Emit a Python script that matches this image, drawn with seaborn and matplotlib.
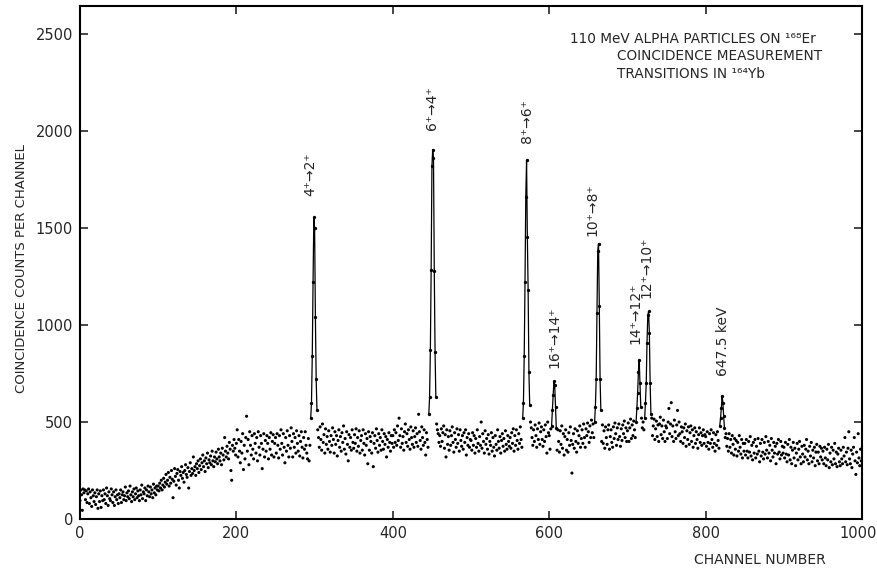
import numpy as np
import pandas as pd
import matplotlib
matplotlib.use("Agg")
import matplotlib.pyplot as plt
import matplotlib.transforms as mtransforms
import seaborn as sns

# ---------------- data: background counts, blocks of 50 channels ----------------
bg_000 = [95, 150, 125, 45, 155, 135, 150, 100, 145, 85,
          130, 155, 80, 140, 110, 65, 150, 120, 90, 135,
          75, 115, 150, 55, 130, 90, 145, 60, 120, 95,
          150, 100, 130, 80, 160, 120, 70, 140, 105, 95,
          155, 125, 85, 140, 70, 115, 150, 100, 125, 80]
bg_050 = [130, 110, 150, 85, 125, 140, 100, 120, 165, 95,
          135, 115, 145, 105, 170, 125, 90, 140, 115, 155,
          100, 130, 160, 110, 145, 120, 95, 150, 125, 175,
          105, 140, 130, 160, 95, 150, 120, 170, 140, 115,
          165, 130, 150, 110, 180, 135, 160, 125, 170, 150]
bg_100 = [170, 145, 185, 160, 200, 150, 175, 210, 165, 190,
          230, 180, 200, 240, 170, 215, 185, 250, 205, 110,
          195, 260, 220, 175, 235, 255, 200, 160, 245, 225,
          270, 210, 240, 190, 250, 280, 230, 215, 265, 160,
          245, 290, 225, 260, 235, 320, 250, 270, 225, 285]
bg_150 = [260, 300, 240, 275, 310, 255, 290, 330, 270, 300,
          245, 315, 285, 340, 265, 305, 290, 325, 280, 350,
          300, 270, 320, 295, 345, 310, 285, 360, 320, 300,
          340, 280, 365, 330, 305, 420, 350, 320, 375, 340,
          310, 395, 360, 250, 200, 380, 350, 410, 365, 330]
bg_200 = [390, 460, 320, 410, 350, 290, 400, 340, 440, 255,
          380, 310, 420, 530, 350, 410, 280, 450, 380, 330,
          430, 360, 310, 440, 390, 340, 420, 300, 450, 370,
          330, 430, 390, 260, 360, 440, 320, 405, 350, 430,
          390, 310, 420, 360, 445, 330, 400, 435, 320, 390]
bg_250 = [420, 340, 440, 380, 315, 430, 360, 460, 390, 330,
          440, 370, 290, 420, 350, 455, 380, 320, 430, 365,
          470, 400, 320, 440, 370, 420, 340, 455, 390, 350,
          430, 325, 400, 450, 370, 315, 420, 360, 450, 380,
          340, 310, 415, 300, 380, 400, 390, 410, 370, 395]
bg_300 = [440, 480, 390, 350, 460, 420, 370, 475, 410, 355,
          490, 395, 435, 340, 465, 385, 425, 360, 455, 400,
          345, 430, 380, 470, 410, 340, 450, 385, 430, 325,
          405, 460, 370, 425, 350, 445, 395, 480, 360, 415,
          335, 450, 385, 300, 435, 370, 420, 355, 460, 395]
bg_350 = [365, 435, 390, 465, 350, 420, 375, 455, 340, 405,
          430, 355, 460, 390, 330, 440, 380, 415, 285, 450,
          355, 425, 400, 340, 445, 270, 390, 430, 365, 465,
          405, 345, 440, 380, 420, 355, 460, 400, 360, 440,
          385, 425, 320, 410, 370, 445, 395, 350, 430, 390]
bg_400 = [430, 370, 460, 395, 445, 380, 480, 405, 520, 430,
          370, 465, 390, 425, 355, 450, 490, 395, 440, 375,
          460, 410, 360, 475, 420, 385, 455, 370, 425, 470,
          395, 440, 375, 540, 450, 405, 360, 475, 420, 380,
          460, 395, 330, 445, 410, 370, 430, 360, 500, 470]
bg_450 = [420, 400, 430, 410, 440, 470, 490, 460, 440, 395,
          430, 375, 465, 400, 445, 480, 365, 435, 320, 460,
          385, 425, 355, 455, 380, 430, 475, 395, 345, 445,
          410, 370, 465, 390, 435, 350, 460, 405, 375, 430,
          360, 445, 395, 460, 330, 420, 380, 440, 370, 410]
bg_500 = [405, 355, 445, 380, 430, 340, 415, 370, 460, 390,
          350, 425, 380, 500, 365, 440, 400, 340, 455, 385,
          415, 360, 435, 335, 400, 380, 445, 350, 420, 370,
          325, 430, 385, 355, 460, 400, 365, 425, 340, 405,
          440, 375, 415, 350, 455, 385, 360, 430, 400, 375]
bg_550 = [420, 365, 445, 390, 465, 350, 430, 380, 460, 405,
          360, 440, 390, 475, 410, 370, 455, 420, 390, 440,
          470, 400, 455, 490, 480, 430, 500, 470, 420, 380,
          460, 400, 485, 430, 370, 465, 410, 495, 385, 450,
          475, 410, 375, 460, 400, 485, 425, 340, 500, 445]
bg_600 = [430, 360, 465, 400, 485, 530, 445, 385, 475, 420,
          355, 460, 400, 345, 455, 385, 480, 365, 440, 330,
          425, 460, 355, 410, 345, 445, 380, 475, 405, 237,
          385, 440, 365, 465, 400, 345, 455, 390, 430, 480,
          370, 415, 460, 390, 490, 420, 370, 465, 430, 495]
bg_650 = [450, 395, 480, 420, 510, 445, 490, 420, 470, 520,
          480, 500, 520, 540, 500, 470, 465, 400, 485, 390,
          455, 365, 475, 420, 385, 460, 485, 360, 425, 460,
          395, 370, 475, 415, 495, 440, 380, 470, 410, 490,
          425, 375, 465, 405, 485, 440, 505, 420, 470, 400]
bg_700 = [455, 495, 400, 470, 515, 415, 485, 430, 505, 460,
          420, 480, 540, 560, 620, 780, 700, 560, 520, 470,
          500, 460, 520, 560, 620, 820, 1000, 1050, 900, 620,
          470, 520, 430, 480, 515, 410, 465, 505, 425, 485,
          400, 490, 525, 435, 480, 415, 510, 450, 400, 480]
bg_750 = [470, 415, 500, 570, 440, 490, 600, 425, 480, 400,
          510, 450, 415, 485, 560, 430, 500, 440, 400, 475,
          450, 390, 470, 420, 490, 375, 455, 410, 475, 385,
          445, 480, 400, 460, 370, 430, 470, 390, 450, 410,
          365, 435, 470, 395, 445, 380, 430, 460, 390, 435]
bg_800 = [425, 375, 450, 395, 360, 440, 390, 460, 410, 370,
          445, 390, 350, 435, 380, 450, 405, 365, 440, 455,
          480, 520, 600, 560, 470, 420, 440, 375, 415, 350,
          440, 370, 410, 340, 430, 385, 330, 415, 360, 405,
          325, 395, 350, 430, 370, 335, 410, 315, 390, 350]
bg_850 = [390, 330, 410, 350, 315, 400, 345, 425, 325, 380,
          305, 395, 340, 410, 315, 375, 335, 415, 350, 295,
          390, 325, 410, 345, 310, 395, 335, 425, 355, 315,
          400, 340, 380, 300, 415, 355, 320, 395, 340, 375,
          285, 390, 335, 410, 345, 310, 400, 330, 375, 340]
bg_900 = [370, 315, 395, 335, 295, 385, 330, 410, 305, 370,
          285, 355, 395, 315, 365, 275, 340, 390, 305, 360,
          400, 320, 285, 375, 335, 295, 380, 320, 360, 410,
          305, 350, 285, 375, 325, 395, 295, 355, 315, 370,
          275, 345, 385, 300, 345, 285, 375, 320, 365, 305]
bg_950 = [350, 285, 370, 315, 275, 360, 305, 385, 265, 340,
          295, 370, 280, 355, 310, 390, 285, 345, 270, 335,
          365, 295, 275, 355, 310, 285, 370, 325, 420, 295,
          345, 280, 365, 450, 310, 285, 355, 265, 335, 370,
          420, 300, 230, 345, 290, 440, 315, 275, 360, 300]

bg_blocks = [bg_000, bg_050, bg_100, bg_150, bg_200, bg_250, bg_300, bg_350,
             bg_400, bg_450, bg_500, bg_550, bg_600, bg_650, bg_700, bg_750,
             bg_800, bg_850, bg_900, bg_950]
bg_starts = [0, 50, 100, 150, 200, 250, 300, 350, 400, 450,
             500, 550, 600, 650, 700, 750, 800, 850, 900, 950]

# ---------------- peaks: (first channel, counts) ----------------
peak_starts = [295, 446, 566, 603, 658, 711, 722, 818]
peak_counts = [
    [520, 600, 840, 1220, 1555, 1500, 1040, 720, 560],        # 4+ -> 2+
    [540, 630, 870, 1285, 1820, 1905, 1860, 1280, 860, 630],  # 6+ -> 4+
    [520, 600, 840, 1220, 1660, 1850, 1455, 1180, 760, 590],  # 8+ -> 6+
    [480, 560, 640, 710, 690, 580, 470],                      # 16+ -> 14+
    [500, 580, 720, 1060, 1380, 1420, 1100, 720, 560],        # 10+ -> 8+
    [500, 570, 650, 760, 820, 700, 580],                      # 14+ -> 12+
    [520, 600, 700, 910, 1050, 1070, 960, 700, 540],          # 12+ -> 10+
    [480, 520, 570, 635, 600, 530, 470],                      # 647.5 keV
]

labels_txt = ["4⁺→2⁺", "6⁺→4⁺", "8⁺→6⁺", "16⁺→14⁺", "10⁺→8⁺",
              "14⁺→12⁺", "12⁺→10⁺", "647.5 keV"]
labels_x = [295, 450, 572, 607, 655, 710, 724, 822]
labels_y = [1780, 2120, 2050, 935, 1595, 1060, 1300, 915]

# ---------------- build tables ----------------
bg_rows = []
for s, blk in zip(bg_starts, bg_blocks):
    for i, v in enumerate(blk):
        bg_rows.append((s + i, v))
bg = pd.DataFrame(bg_rows, columns=["channel", "counts"])

peak_rows = []
for k, (s, cnts) in enumerate(zip(peak_starts, peak_counts)):
    for i, v in enumerate(cnts):
        peak_rows.append((k, s + i, v))
pk = pd.DataFrame(peak_rows, columns=["peak", "channel", "counts"])
bg = bg[~bg["channel"].isin(pk["channel"])]

# ---------------- plot ----------------
sns.set_style("ticks")
plt.rcParams["font.family"] = ["DejaVu Sans"]

fig = plt.figure(figsize=(8.77, 5.71), dpi=100)
ax = fig.add_axes([0.0912, 0.091, 0.8918, 0.8985])

sns.scatterplot(data=bg, x="channel", y="counts", ax=ax, s=5, color="black",
                edgecolor="none", linewidth=0, legend=False)
for k in range(len(peak_starts)):
    sub = pk[pk["peak"] == k]
    sns.lineplot(data=sub, x="channel", y="counts", ax=ax, sort=False,
                 estimator=None, color="black", linewidth=0.9,
                 marker="o", markersize=2.4, markeredgewidth=0, legend=False)

ax.set_xlim(0, 1000)
ax.set_ylim(0, 2645)
ax.set_xticks([0, 200, 400, 600, 800, 1000])
ax.set_yticks([0, 500, 1000, 1500, 2000, 2500])
ax.tick_params(direction="in", length=6, width=1.2, top=True, right=True,
               labelsize=10.5, pad=5)
for sp in ax.spines.values():
    sp.set_linewidth(1.5)
    sp.set_color("black")
ax.set_xlabel("")
ax.set_ylabel("")

# keep the last x tick label inside the figure
fig.canvas.draw()
last_lbl = ax.get_xticklabels()[-1]
last_lbl.set_transform(last_lbl.get_transform() +
                       mtransforms.ScaledTranslation(-4 / 100, 0, fig.dpi_scale_trans))

fig.text(0.025, 0.53, "COINCIDENCE COUNTS PER CHANNEL", rotation=90,
         ha="center", va="center", fontsize=9.5)
fig.text(0.867, 0.02, "CHANNEL NUMBER", ha="center", va="center", fontsize=10)

for t, x, y in zip(labels_txt, labels_x, labels_y):
    ax.text(x, y, t, rotation=90, ha="center", va="center", fontsize=10)

ax.text(0.627, 0.935, "110 MeV ALPHA PARTICLES ON ¹⁶⁸Er", transform=ax.transAxes,
        ha="left", va="center", fontsize=9.8)
ax.text(0.686, 0.902, "COINCIDENCE MEASUREMENT", transform=ax.transAxes,
        ha="left", va="center", fontsize=9.8)
ax.text(0.686, 0.867, "TRANSITIONS IN ¹⁶⁴Yb", transform=ax.transAxes,
        ha="left", va="center", fontsize=9.8)

fig.savefig("out.png", dpi=100)
